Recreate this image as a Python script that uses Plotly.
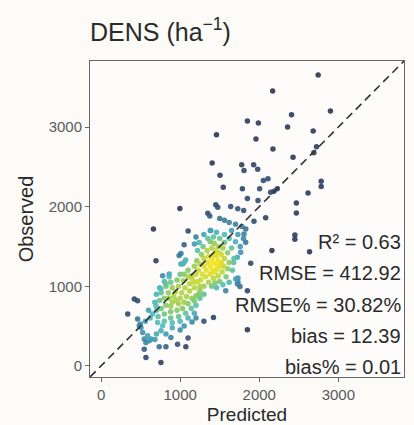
import numpy as np
import plotly.graph_objects as go

# Sparse / outlying points (predicted, observed)
pred_sparse = [2745, 2169, 2900, 2408, 1850, 1989, 2358, 2682, 1459, 1958, 2724, 2690, 2173, 2427,
               1404, 1778, 1807, 1929, 1980, 1504, 2052, 2110, 2783, 2783, 1545, 1787, 2005, 2144,
               2185, 2228, 2617, 1850, 1984, 2469, 2469, 996, 1450, 1475, 1639, 1728, 1803, 1349,
               1374, 2081, 1933, 662, 1101, 2450, 2450, 2160, 2636, 1892, 1731, 1731, 1756, 1850,
               1576, 1421, 1850, 1765, 1807, 1828, 694, 1200, 1180, 1050, 1010, 1070, 1030]
obs_sparse = [3655, 3453, 3202, 3156, 3076, 3051, 3000, 2950, 2905, 2849, 2753, 2678, 2726, 2622,
              2547, 2527, 2455, 2527, 2471, 2396, 2329, 2351, 2320, 2254, 2245, 2225, 2225, 2182,
              2195, 2225, 2172, 2103, 2077, 2046, 1920, 1977, 2023, 1993, 2002, 1973, 1951, 1917,
              1882, 1860, 1817, 1719, 1693, 1645, 1590, 1448, 1435, 1288, 1104, 1049, 998, 944,
              944, 608, 453, 1426, 1658, 1552, 1322, 1620, 1530, 1520, 1410, 1330, 1280]

# Main cluster around (1450, 1300)
pred_a = [1400, 1420, 1450, 1480, 1430, 1460, 1500, 1380, 1410, 1440, 1470, 1520, 1490, 1450, 1400,
          1360, 1350, 1330, 1380, 1420, 1480, 1530, 1550, 1560, 1520, 1540, 1480, 1430, 1380, 1340,
          1300, 1300, 1320, 1360, 1440, 1500, 1580, 1600, 1620, 1600, 1560, 1500, 1420, 1350, 1290,
          1270, 1250, 1280, 1400, 1460, 1540, 1620, 1660, 1680, 1650, 1620, 1560, 1460, 1380, 1300,
          1240, 1220, 1210, 1230, 1260, 1387, 1677, 1723, 1702, 1723]
obs_a = [1350, 1300, 1280, 1320, 1400, 1380, 1250, 1250, 1200, 1180, 1220, 1300, 1420, 1450, 1480,
         1380, 1300, 1200, 1150, 1100, 1130, 1180, 1250, 1350, 1400, 1480, 1500, 1540, 1560, 1450,
         1350, 1250, 1120, 1050, 1040, 1060, 1120, 1220, 1300, 1420, 1550, 1600, 1620, 1600, 1500,
         1400, 1280, 1150, 1000, 980, 1020, 1050, 1200, 1350, 1480, 1600, 1650, 1680, 1700, 1650,
         1550, 1450, 1320, 1200, 1080, 1700, 1300, 1363, 1091, 1028]

# Arm extending up-right from main cluster
pred_arm = [1500, 1560, 1620, 1700, 1780, 1830, 1650, 1730, 1800, 1700, 1760]
obs_arm = [1850, 1830, 1800, 1780, 1750, 1720, 1700, 1650, 1600, 1560, 1500]

# Secondary cluster around (950, 820)
pred_b = [950, 900, 1000, 920, 980, 1050, 880, 860, 940, 1020, 1080, 1100, 1030, 960, 880, 820, 800,
          850, 900, 980, 1060, 1120, 1150, 1140, 1070, 980, 880, 800, 760, 740, 760, 820, 880, 960,
          1040, 1120, 1180, 1200, 1200, 1180, 1100, 1000, 900, 800, 720, 700, 680, 700, 740, 800,
          860, 1000, 1100, 1220, 1250, 1150, 1200, 1100, 1250, 1050, 1180, 1300, 1250, 1300,
          778, 861, 987, 1009, 1050, 820, 757, 694, 1177, 1240, 1135, 1177]
obs_b = [820, 800, 850, 870, 780, 800, 750, 850, 930, 920, 870, 780, 720, 700, 680, 760, 850,
         920, 980, 1000, 980, 940, 850, 720, 660, 620, 600, 650, 720, 820, 920, 1000, 1050, 1080,
         1070, 1030, 980, 880, 760, 660, 600, 560, 540, 560, 620, 700, 800, 900, 980, 1060,
         1120, 1150, 1120, 1060, 950, 1100, 1150, 1200, 1000, 1150, 1250, 1000, 850, 900,
         1133, 1154, 1385, 1280, 1300, 1028, 966, 755, 818, 902, 1133, 1049]

# Lower-left points
pred_low = [546, 567, 609, 631, 589, 526, 504, 483, 546, 567, 757, 735, 820, 967, 1072, 757, 820,
            883, 715, 778, 420, 462, 337, 462, 496, 650, 600, 620, 560, 700, 680, 1100, 1000, 900,
            1050, 1150, 1200, 1300]
obs_low = [336, 293, 315, 336, 378, 419, 482, 503, 210, 104, 42, 239, 239, 273, 239, 441, 399,
           356, 545, 504, 840, 818, 651, 588, 525, 650, 700, 600, 560, 400, 330, 350, 450, 480,
           500, 550, 600, 560]

predicted = np.array(pred_sparse + pred_a + pred_arm + pred_b + pred_low, dtype=float)
observed = np.array(obs_sparse + obs_a + obs_arm + obs_b + obs_low, dtype=float)

stats_lines = ["R\u00b2 = 0.63", "RMSE = 412.92", "RMSE% = 30.82%", "bias = 12.39", "bias% = 0.01"]
axis_range = [-140, 3830]
tick_vals = [0, 1000, 2000, 3000]

# point density (colour), as in a density-coloured scatter
bw = 140.0
dx = predicted[:, None] - predicted[None, :]
dy = observed[:, None] - observed[None, :]
dens = np.exp(-(dx ** 2 + dy ** 2) / (2 * bw ** 2)).sum(axis=1)
dens = (dens - dens.min()) / (dens.max() - dens.min())
order = np.argsort(dens)

colorscale = [[0.0, "#2c3550"], [0.2, "#33537a"], [0.4, "#3e93b0"], [0.55, "#4fbdbd"],
              [0.7, "#7cc76a"], [0.85, "#bcd53a"], [1.0, "#f6e21c"]]

FONT = "Liberation Sans, Arial"

fig = go.Figure()
fig.add_trace(go.Scatter(
    x=predicted[order], y=observed[order], mode="markers",
    marker=dict(size=5.5, color=dens[order], colorscale=colorscale, cmin=0, cmax=1,
                opacity=0.9, line=dict(width=0)),
    showlegend=False, hoverinfo="skip"))
fig.add_trace(go.Scatter(
    x=axis_range, y=axis_range, mode="lines",
    line=dict(color="#333333", width=1.6, dash="8px,5px"),
    showlegend=False, hoverinfo="skip"))

ys = [0.427, 0.329, 0.228, 0.130, 0.032]
for txt, yy in zip(stats_lines, ys):
    fig.add_annotation(text=txt, xref="paper", yref="paper", x=0.996, y=yy,
                       xanchor="right", yanchor="middle", showarrow=False,
                       font=dict(family=FONT, size=20, color="#2a2a2a"))

axis_common = dict(range=axis_range, tickvals=tick_vals, showgrid=False, zeroline=False,
                   showline=True, mirror=True, linecolor="#666666", linewidth=1,
                   ticks="outside", ticklen=4, tickcolor="#666666", automargin=False,
                   tickfont=dict(family=FONT, size=15, color="#5a5a5a"))

fig.update_layout(
    width=414, height=425,
    margin=dict(l=90, r=10, t=61, b=48),
    paper_bgcolor="#fcfbf8", plot_bgcolor="#fdfcfa",
    title=dict(text="DENS (ha<sup>\u22121</sup>)", x=90 / 414, xanchor="left",
               y=1 - 32 / 425, yanchor="middle",
               font=dict(family=FONT, size=25, color="#2a2a2a")),
    xaxis=dict(axis_common, title=dict(text="Predicted", standoff=6,
                                       font=dict(family=FONT, size=19, color="#2a2a2a"))),
    yaxis=dict(axis_common, title=dict(text="Observed", standoff=9,
                                       font=dict(family=FONT, size=20, color="#2a2a2a"))),
)

fig.write_html("out.html")
